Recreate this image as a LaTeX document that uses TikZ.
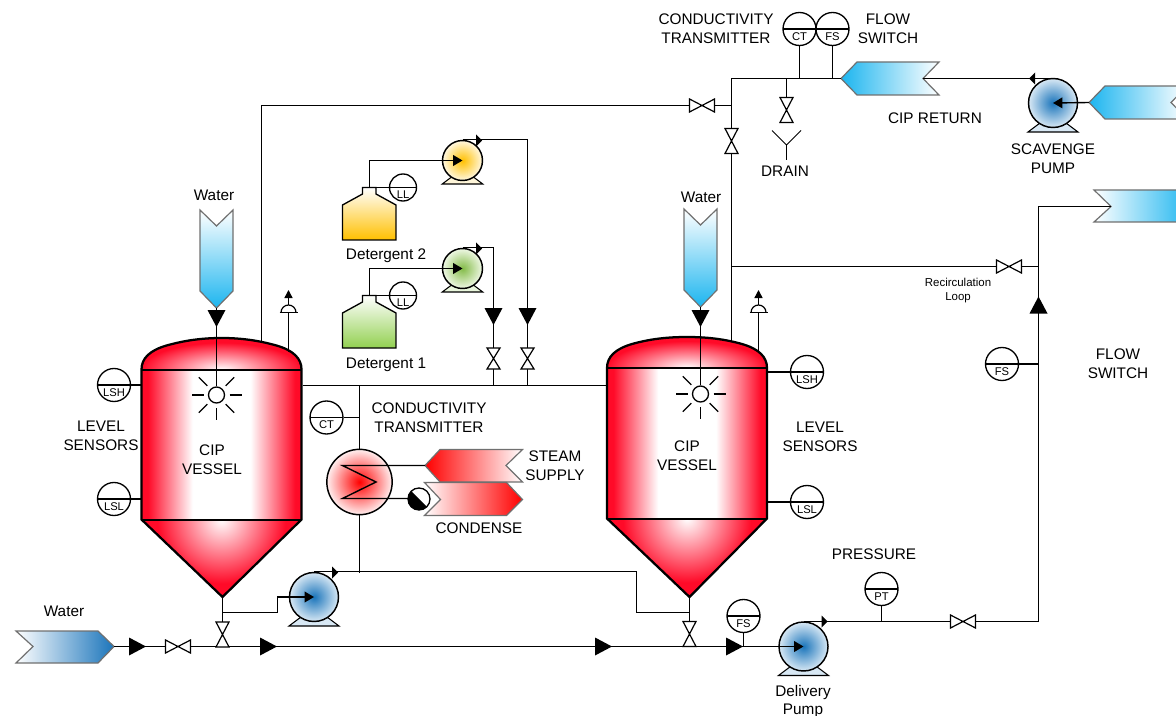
\documentclass[tikz,border=0pt]{standalone}
\usepackage{fontspec}
\setmainfont{Liberation Sans}
\usetikzlibrary{arrows.meta, positioning, calc}

\definecolor{vesselred}{HTML}{FF0A28}
\definecolor{deepblue}{HTML}{1B75BB}
\definecolor{paleblue}{HTML}{D8E8F4}
\definecolor{cyanblue}{HTML}{1CB5EF}
\definecolor{tagline}{HTML}{707070}
\definecolor{detyellow}{HTML}{FFC000}
\definecolor{detgreen}{HTML}{92D050}
\pgfdeclarehorizontalshading{vesselbody}{100bp}{color(0bp)=(vesselred); color(27bp)=(vesselred); color(41bp)=(white); color(59bp)=(white); color(73bp)=(vesselred); color(100bp)=(vesselred)}

\tikzset{
  pipe/.style={line width=1.05pt, black},
  inlet/.style={pipe, -{Triangle[length=7pt, width=8pt]}},
  lbl/.style={font=\fontsize{11.5}{14}\selectfont, align=center, inner sep=0pt},
  tinylbl/.style={font=\fontsize{8.6}{10.5}\selectfont, align=center, inner sep=0pt},
  bubtext/.style={font=\fontsize{8.4}{9}\selectfont, inner sep=0pt, yshift=-5.6pt},
  bubble/.style={circle, draw, line width=1pt, fill=white, inner sep=0pt, minimum size=24.75pt,
    path picture={\draw[line width=1pt] (path picture bounding box.west) -- (path picture bounding box.east);},
    label={[bubtext]center:#1}},
  smallbubble/.style={bubble=#1, minimum size=20.25pt},
  pumpbody/.style={circle, draw, line width=1.1pt, inner sep=0pt, minimum size=36.75pt},
  smallpump/.style={pumpbody, minimum size=30pt},
  tagshape/.style={draw=tagline, line width=0.9pt},
  trapbody/.style={circle, draw, line width=1pt, fill=white, inner sep=0pt, minimum size=16.5pt,
    path picture={\fill[black] (path picture bounding box.north west) -- (path picture bounding box.south east) -- (path picture bounding box.south west) -- cycle;}},
  hubbody/.style={circle, draw, line width=1pt, fill=white, inner sep=0pt, minimum size=12pt},
  valve/.pic={\draw[line width=0.9pt, fill=white] (-12.5,-6.5) -- (12.5,6.5) -- (12.5,-6.5) -- (-12.5,6.5) -- cycle;},
  flow/.pic={\fill[black] (-8.5,-9) -- (8.5,0) -- (-8.5,9) -- cycle;},
  smallflow/.pic={\fill[black] (-3,-6) -- (3,0) -- (-3,6) -- cycle;},
  pumpfoot/.pic={\draw[line width=0.8pt, fill=#1] (-25,29) -- (25,29) -- (13,20) -- (-13,20) -- cycle;},
  ventcap/.pic={\draw[line width=0.9pt, fill=white] (-7.5,0) arc[start angle=180, end angle=360, x radius=7.5, y radius=7.5]; \draw[line width=0.9pt] (-9,0) -- (9,0);},
}

% vessel: left, right, tip x, top, shoulder, bottom, tip y
\newcommand{\cipvessel}[7]{%
  \shade[shading=vesselbody] (#1,#5) rectangle (#2,#6);
  \begin{scope}
    \clip (#1,#5) .. controls (#1,{#5-11}) and ({#1+8},{#5-19}) .. ({#1+25},{#5-24})
      .. controls ({#1+43},{#5-29}) and ({#1+60},#4) .. ({(#1+#2)/2},#4)
      .. controls ({#2-60},#4) and ({#2-43},{#5-29}) .. ({#2-25},{#5-24})
      .. controls ({#2-8},{#5-19}) and (#2,{#5-11}) .. (#2,#5) -- cycle;
    \fill[vesselred] (#1,#4) rectangle (#2,#5);
    \shade[inner color=white, outer color=vesselred] (#1,{#5-27}) rectangle (#2,{#5+27});
  \end{scope}
  \begin{scope}
    \clip (#1,#6) -- (#2,#6) -- (#3,#7) -- cycle;
    \fill[vesselred] (#1,#6) rectangle (#2,#7);
    \shade[inner color=white, outer color=vesselred] ({(#1+#2)/2-64},{#6-64}) rectangle ({(#1+#2)/2+64},{#6+64});
  \end{scope}
  \draw[line width=1.7pt] (#1,#5) .. controls (#1,{#5-11}) and ({#1+8},{#5-19}) .. ({#1+25},{#5-24})
      .. controls ({#1+43},{#5-29}) and ({#1+60},#4) .. ({(#1+#2)/2},#4)
      .. controls ({#2-60},#4) and ({#2-43},{#5-29}) .. ({#2-25},{#5-24})
      .. controls ({#2-8},{#5-19}) and (#2,{#5-11}) .. (#2,#5)
      -- (#2,#6) -- (#3,#7) -- (#1,#6) -- cycle;
  \draw[line width=1.5pt] (#1,#5) -- (#2,#5);
  \draw[line width=1.5pt] (#1,#6) -- (#2,#6);
}

\begin{document}
\begin{tikzpicture}[x=0.75pt, y=-0.75pt]
    \useasboundingbox (0,0) rectangle (1176,716);
    \clip (0,0) rectangle (1176,716);

    % Vessels
    \cipvessel{141.5}{301.5}{222.5}{338}{369.5}{519.5}{597}
    \cipvessel{607}{767}{689.5}{337}{368}{518.5}{597}

    % Off-page tags
    \shade[tagshape, left color=white, right color=deepblue] (16,631) -- (98,631) -- (114,646.5) -- (98,663) -- (16,663) -- (33,646.5) -- cycle;
    \coordinate (watertagc) at (114,646.5);
    \shade[tagshape, top color=white, bottom color=cyanblue] (200,210) -- (216.5,226) -- (233,210) -- (233,291) -- (216.5,308) -- (200,291) -- cycle;
    \coordinate (watertaga) at (216.5,308);
    \shade[tagshape, top color=white, bottom color=cyanblue] (684,209) -- (700.5,225) -- (717,209) -- (717,290) -- (700.5,307) -- (684,290) -- cycle;
    \coordinate (watertagb) at (700.5,307);
    \shade[tagshape, left color=cyanblue, right color=white] (841,78.5) -- (857,62) -- (939,62) -- (923,78.5) -- (939,95) -- (857,95) -- cycle;
    \coordinate (rettag) at (841,78.5);
    \coordinate (retnotch) at (923,78.5);
    \shade[tagshape, left color=cyanblue, right color=white] (1089,102.5) -- (1105,86) -- (1187,86) -- (1171,102.5) -- (1187,119) -- (1105,119) -- cycle;
    \coordinate (scavtag) at (1089,102.5);
    \shade[tagshape, left color=white, right color=cyanblue] (1094,190) -- (1192,190) -- (1192,222) -- (1094,222) -- (1111,206.5) -- cycle;
    \coordinate (outtag) at (1111,206.5);
    \shade[tagshape, left color=red, right color=white] (425,465.5) -- (440,449.5) -- (522.5,449.5) -- (506,465.5) -- (522.5,482) -- (440,482) -- cycle;
    \coordinate (steamtag) at (425,465.5);
    \shade[tagshape, left color=white, right color=red] (424.5,482.5) -- (506.5,482.5) -- (522.5,499.5) -- (506.5,515.5) -- (424.5,515.5) -- (440.5,499.5) -- cycle;

    % Return header and overhead lines
    \coordinate (rethead) at (731.5,78.5);
    \coordinate (retfoot) at (731.5,342);
    \coordinate (ovhead) at (731.5,105.5);
    \coordinate (ovleft) at (261.5,105.5);
    \coordinate (ovfoot) at (261.5,342);
    \coordinate (recstart) at (731.5,266.5);
    \coordinate (recend) at (1038.5,266.5);
    \draw[pipe] (rettag) -- (rethead) -- (retfoot);
    \draw[pipe] (ovfoot) -- (ovleft) -- (ovhead);
    \draw[pipe] (recstart) -- (recend);
    \pic at (702,105.5) {valve};
    \pic[rotate=90] at (731.5,141) {valve};
    \pic at (1009,266.5) {valve};

    % Drain
    \coordinate (drainhead) at (786.5,78.5);
    \coordinate (drainend) at (786.5,100);
    \coordinate (drainfork) at (786.5,145);
    \draw[pipe] (drainhead) -- (drainend);
    \pic[rotate=90] at (786.5,110) {valve};
    \draw[line width=0.7pt] (772,130.5) -- (drainfork) -- (801,130.5);
    \draw[line width=0.7pt] (drainfork) -- (786.5,160);

    % Top instruments
    \node[bubble=CT] (cttop) at (799.5,29) {};
    \node[bubble=FS] (fstop) at (832.5,29) {};
    \draw[pipe] (cttop.south) -- (cttop.south |- rethead);
    \draw[pipe] (fstop.south) -- (fstop.south |- rethead);

    % Scavenge pump
    \pic at (1053,103) {pumpfoot=paleblue};
    \node[pumpbody, inner color=deepblue, outer color=paleblue] (scavpump) at (1053,103) {};
    \draw[pipe] (retnotch) -- (retnotch -| scavpump.center);
    \pic[rotate=180] at (1032,78.5) {smallflow};
    \draw[inlet] (scavtag) -- (scavpump.center);

    % Recirculation riser
    \coordinate (delout) at (803.5,621.5);
    \coordinate (riserfoot) at (1038.5,621.5);
    \coordinate (risertop) at (1038.5,206.5);
    \draw[pipe] (delout) -- (riserfoot) -- (risertop) -- (outtag);
    \pic[rotate=90] at (1038.5,305) {flow};
    \pic at (963,621.5) {valve};
    \node[bubble=FS] (fsriser) at (1002,364) {};
    \draw[pipe] (fsriser.east) -- (fsriser.east -| riserfoot);
    \node[bubble=PT] (ptdel) at (881.5,589) {};
    \draw[pipe] (ptdel.south) -- (ptdel.south |- riserfoot);

    % Detergent tanks
    \shade[draw=black, line width=1pt, top color=white, bottom color=detyellow] (342.5,240) -- (342.5,205) -- (362.5,194) -- (362.5,187.5) -- (376,187.5) -- (376,194) -- (396,205) -- (396,240) -- cycle;
    \shade[draw=black, line width=1pt, top color=white, bottom color=detgreen] (342.5,348) -- (342.5,313) -- (362.5,302) -- (362.5,295.5) -- (376,295.5) -- (376,302) -- (396,313) -- (396,348) -- cycle;
    \coordinate (tanktopb) at (369.5,187.5);
    \coordinate (tanktopa) at (369.5,295.5);
    \node[smallbubble=LL] (llb) at (403,187.5) {};
    \node[smallbubble=LL] (lla) at (403,295.5) {};
    \draw[pipe] (tanktopb) -- (llb.west);
    \draw[pipe] (tanktopa) -- (lla.west);

    % Detergent pumps
    \pic[scale=0.81] at (462.5,160.5) {pumpfoot={detyellow!15!white}};
    \node[smallpump, inner color=detyellow, outer color=detyellow!12!white] (detpumpb) at (462.5,160.5) {};
    \pic[scale=0.81] at (462.5,268.5) {pumpfoot={detgreen!20!white}};
    \node[smallpump, inner color=detgreen!90!black, outer color=detgreen!15!white] (detpumpa) at (462.5,268.5) {};
    \draw[inlet] (tanktopb) |- (detpumpb.center);
    \draw[inlet] (tanktopa) |- (detpumpa.center);
    \coordinate (headerb) at (527.5,385.5);
    \coordinate (headera) at (493.5,385.5);
    \draw[pipe] (detpumpb.north) -| (headerb);
    \draw[pipe] (detpumpa.north) -| (headera);
    \pic at (479,140.5) {smallflow};
    \pic at (479,248.5) {smallflow};
    \pic[rotate=-90] at (527.5,316.5) {flow};
    \pic[rotate=-90] at (493.5,316.5) {flow};
    \pic[rotate=90, xscale=0.84] at (527.5,358.5) {valve};
    \pic[rotate=90, xscale=0.84] at (493.5,358.5) {valve};

    % Vessel cross line and exchanger branch
    \coordinate (crossleft) at (302.5,385.5);
    \coordinate (crossright) at (606,385.5);
    \coordinate (hxtop) at (359.5,385.5);
    \coordinate (hxfoot) at (359.5,572.5);
    \draw[pipe] (crossleft) -- (crossright);
    \draw[pipe] (hxtop) -- (hxfoot);
    \node[bubble=CT] (ctleft) at (326.5,417.5) {};
    \draw[pipe] (ctleft.east) -- (ctleft.east -| hxtop);

    % Exchanger
    \node[circle, draw, line width=1.1pt, inner sep=0pt, minimum size=49pt, inner color=red, outer color=red!6!white] (hx) at (359.5,482) {};
    \coordinate (coiltop) at (342.5,465.5);
    \coordinate (coilbot) at (342.5,498.5);
    \draw[pipe] (steamtag) -- (coiltop) -- (376,482) -- (coilbot) -- (419,498.5);
    \node[trapbody] (trap) at (419,499) {};

    % Bottom main line
    \coordinate (mainend) at (780,646.5);
    \draw[pipe] (watertagc) -- (mainend);
    \pic at (137.5,646.5) {flow};
    \pic at (178,646.5) {valve};
    \pic at (268.5,646.5) {flow};
    \pic at (603.5,646.5) {flow};
    \pic at (734.5,646.5) {flow};

    % Left vessel outlet and main pump
    \coordinate (tipa) at (222.5,597);
    \coordinate (outa) at (222.5,646.5);
    \coordinate (brancha) at (222.5,612.5);
    \coordinate (riseup) at (277.5,612.5);
    \draw[pipe] (tipa) -- (outa);
    \pic[rotate=90] at (222.5,634.5) {valve};
    \pic at (314,597) {pumpfoot=paleblue};
    \node[pumpbody, inner color=deepblue, outer color=paleblue] (mainpump) at (314,597) {};
    \draw[inlet] (brancha) -- (riseup) |- (mainpump.center);

    % Right vessel outlet and return to main pump
    \coordinate (tipb) at (689.5,597);
    \coordinate (outb) at (689.5,646.5);
    \coordinate (branchb) at (689.5,612.5);
    \coordinate (branchc) at (636.5,612.5);
    \draw[pipe] (tipb) -- (outb);
    \draw[pipe] (branchb) -- (branchc) |- (mainpump.north);
    \pic[rotate=90] at (689.5,634) {valve};
    \pic at (335,572.5) {smallflow};

    % Delivery pump
    \pic at (803.5,646.5) {pumpfoot=paleblue};
    \node[pumpbody, inner color=deepblue, outer color=paleblue] (delpump) at (803.5,646.5) {};
    \draw[inlet] (mainend) -- (delpump.center);
    \pic at (824.5,621.5) {smallflow};
    \node[bubble=FS] (fsdel) at (743.5,616) {};
    \draw[pipe] (fsdel.south) -- (fsdel.south |- mainend);

    % Level sensors
    \node[bubble=LSH] (lsha) at (114,385) {};
    \node[bubble=LSL] (lsla) at (114,499) {};
    \node[bubble=LSH] (lshb) at (807,372) {};
    \node[bubble=LSL] (lslb) at (807,502) {};
    \draw[pipe] (lsha.east) -- (141.5,385);
    \draw[pipe] (lsla.east) -- (141.5,499);
    \draw[pipe] (lshb.west) -- (767,372);
    \draw[pipe] (lslb.west) -- (767,502);

    % Agitators and water feeds
    \node[hubbody] (huba) at (216.5,395) {};
    \node[hubbody] (hubb) at (700.5,394) {};
    \draw[pipe] (watertaga) -- (huba.north);
    \draw[pipe] (watertagb) -- (hubb.north);
    \pic[rotate=-90] at (216.5,318.5) {flow};
    \pic[rotate=-90] at (700.5,318.5) {flow};
    \foreach \ang in {0,45,90,135,180,225,315} {
        \draw[line width=1pt, shift={(huba.center)}] (\ang:13) -- (\ang:25);
        \draw[line width=1pt, shift={(hubb.center)}] (\ang:13) -- (\ang:25);
    }

    % Vents
    \coordinate (venta) at (288.5,290);
    \coordinate (ventb) at (758.5,290);
    \draw[pipe, -{Triangle[length=6pt, width=6pt]}] (288.5,352) -- (venta);
    \draw[pipe, -{Triangle[length=6pt, width=6pt]}] (758.5,352) -- (ventb);
    \pic at (288.5,312.5) {ventcap};
    \pic at (758.5,312.5) {ventcap};

    % Labels
    \node[lbl] (lwatera) at (214,195) {Water};
    \node[lbl] (lwaterb) at (701,197) {Water};
    \node[lbl] (lwaterc) at (64,611) {Water};
    \node[lbl] (llevela) at (101,436) {LEVEL\\SENSORS};
    \node[lbl] (llevelb) at (820,436.5) {LEVEL\\SENSORS};
    \node[lbl] (lvesa) at (212,459.5) {CIP\\VESSEL};
    \node[lbl] (lvesb) at (687,455.5) {CIP\\VESSEL};
    \node[lbl] (lcond) at (429,418) {CONDUCTIVITY\\TRANSMITTER};
    \node[lbl] (lsteam) at (555,465.5) {STEAM\\SUPPLY};
    \node[lbl] (lcondense) at (479,528) {CONDENSE};
    \node[lbl] (lpress) at (874,554) {PRESSURE};
    \node[lbl] (ldel) at (803,701.5) {Delivery\\Pump};
    \node[lbl] (lscav) at (1053,158.5) {SCAVENGE\\PUMP};
    \node[lbl] (lret) at (935,118) {CIP RETURN};
    \node[lbl] (ldrain) at (785,171) {DRAIN};
    \node[lbl] (lcondtop) at (716,28.5) {CONDUCTIVITY\\TRANSMITTER};
    \node[lbl] (lflowtop) at (888,28.5) {FLOW\\SWITCH};
    \node[lbl] (lflow) at (1118,364) {FLOW\\SWITCH};
    \node[lbl] (ldetb) at (386,255.5) {Detergent 2};
    \node[lbl] (ldeta) at (386,364.5) {Detergent 1};
    \node[tinylbl] (lrec) at (958,291) {Recirculation\\Loop};
\end{tikzpicture}
\end{document}
